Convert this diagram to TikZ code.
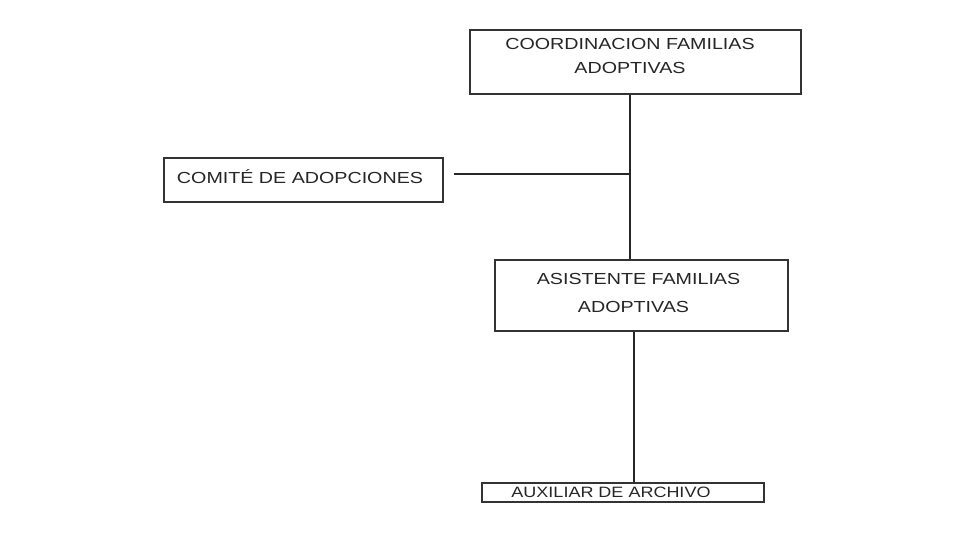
\documentclass[tikz,border=0pt]{standalone}
\usepackage{fontspec}
\setmainfont{Liberation Sans}
\usepackage{graphicx}
\newcommand{\wide}[2]{\scalebox{#1}[1]{#2}}
\tikzset{
  box/.style={draw=black!80, line width=2pt, inner sep=0pt, fill=white},
  lbl/.style={inner sep=0pt, text=black!85, font=\fontsize{16}{26}\selectfont, align=center, anchor=base},
  conn/.style={draw=black!85, line width=2pt}
}
\begin{document}
\begin{tikzpicture}[x=1pt,y=-1pt]
\useasboundingbox[fill=white] (0,0) rectangle (976,543);
% boxes
\node[box, minimum width=331pt, minimum height=64pt] (coord) at (635.5,62) {};
\node[box, minimum width=279pt, minimum height=44pt] (comite) at (303.5,180) {};
\node[box, minimum width=293pt, minimum height=71pt] (asis) at (641.5,295.5) {};
\node[box, minimum width=282pt, minimum height=19pt] (aux) at (623,492.5) {};
% labels
\node[lbl] (t1) at (630,49) {\wide{1.23}{COORDINACION FAMILIAS}};
\node[lbl] (t1b) at (630,73) {\wide{1.23}{ADOPTIVAS}};
\node[lbl] (t2) at (300,183) {\wide{1.23}{COMITÉ DE ADOPCIONES}};
\node[lbl] (t3) at (638.5,284) {\wide{1.23}{ASISTENTE FAMILIAS}};
\node[lbl] (t3b) at (633.5,312) {\wide{1.23}{ADOPTIVAS}};
\node[lbl, font=\fontsize{15}{20}\selectfont] (t4) at (611,497) {\wide{1.2}{AUXILIAR DE ARCHIVO}};
% connectors
\coordinate (j) at (630,174);
\coordinate (k) at (634,400);
\coordinate (c0) at (454,174);
\draw[conn] (coord.south -| j) -- (asis.north -| j);
\draw[conn] (c0) -- (j);
\draw[conn] (asis.south -| k) -- (aux.north -| k);
\end{tikzpicture}
\end{document}
